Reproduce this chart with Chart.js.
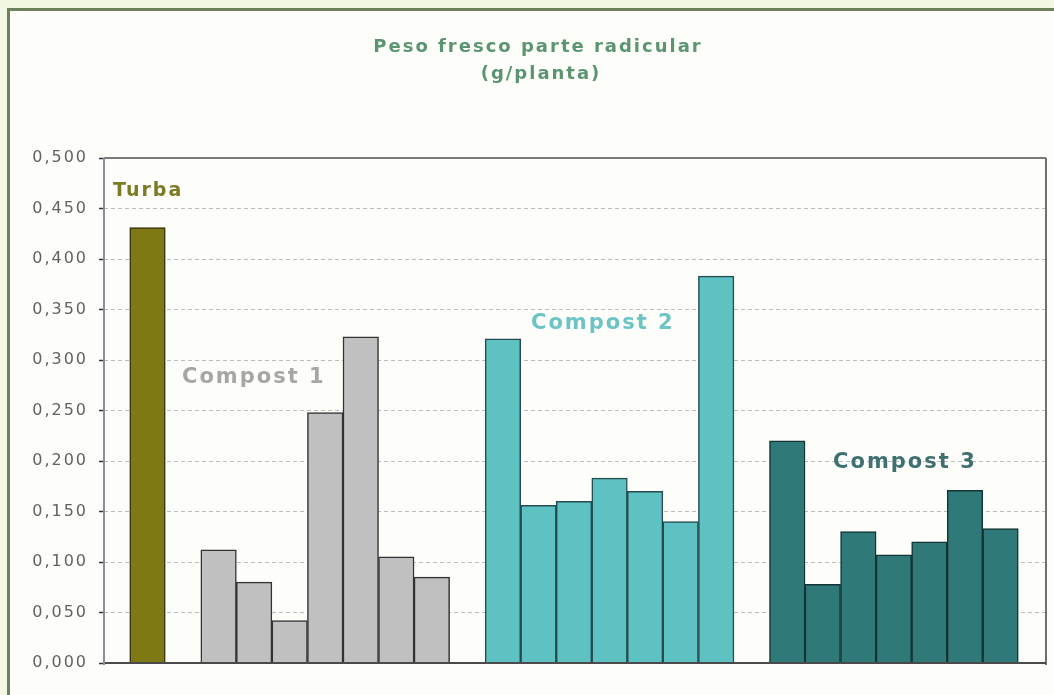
<!DOCTYPE html>
<html>
<head>
<meta charset="utf-8">
<script src="https://cdn.jsdelivr.net/npm/chart.js@4/dist/chart.umd.min.js"></script>
<style>
  html, body { margin: 0; padding: 0; background: #f2f7e4; overflow: hidden; }
  #frame {
    position: absolute; left: 7px; top: 8px; width: 1100px; height: 760px;
    border: 3px solid #6e7f5c; background: #fdfef9;
  }
  #wrap { position: absolute; left: 0; top: 0; width: 1054px; height: 695px; }
</style>
</head>
<body>
<div id="frame"></div>
<div id="wrap"><canvas id="c" width="1054" height="695"></canvas></div>
<script>
// Fresh root weight per plant (g/planta), one bar per sample
const turba    = [0.431];
const compost1 = [0.112, 0.080, 0.042, 0.248, 0.323, 0.105, 0.085];
const compost2 = [0.321, 0.156, 0.160, 0.183, 0.170, 0.140, 0.383];
const compost3 = [0.220, 0.078, 0.130, 0.107, 0.120, 0.171, 0.133];

const groupNames = ['Turba', 'Compost 1', 'Compost 2', 'Compost 3'];
const yTicks = [0, 0.05, 0.1, 0.15, 0.2, 0.25, 0.3, 0.35, 0.4, 0.45, 0.5];
const titleLines = ['Peso fresco parte radicular', '(g/planta)'];

// Groups sit side by side with one empty slot between them
const groups = [turba, compost1, compost2, compost3];
const groupStart = [];
let slot = 0;
groups.forEach(g => { groupStart.push(slot); slot += g.length + 1; });
const toPoints = (vals, gi) => vals.map((v, i) => ({ x: groupStart[gi] + i, y: v }));

const styles = [
  { fill: '#7f7914', border: '#33320f', label: '#7c7a24', size: 19 },
  { fill: '#c0c0c0', border: '#333333', label: '#a6a6a6', size: 21 },
  { fill: '#5ec2c3', border: '#244b4f', label: '#6cc4c5', size: 21 },
  { fill: '#2f7a78', border: '#133434', label: '#3f6f70', size: 21 }
];
// Group label anchors, in axis units (left edge, vertical middle)
const labelAnchor = [
  { x: -0.97, y: 0.467 },
  { x: 0.97,  y: 0.283 },
  { x: 10.79, y: 0.336 },
  { x: 19.29, y: 0.198 }
];

// each bar fills one whole slot of the x axis
const slotWidth = ctx => {
  const x = ctx.chart.scales.x;
  return x ? Math.abs(x.getPixelForValue(1) - x.getPixelForValue(0)) : 30;
};

const spacing = {
  id: 'spacing',
  beforeUpdate(chart) { chart.ctx.letterSpacing = '2px'; },
  beforeDraw(chart) { chart.ctx.letterSpacing = '2px'; }
};

const decorations = {
  id: 'decorations',
  afterDatasetsDraw(chart) {
    const { ctx, chartArea: a, scales } = chart;
    ctx.save();
    ctx.letterSpacing = '2px';
    // plot frame
    const edge = (x1, y1, x2, y2, color) => {
      ctx.beginPath(); ctx.strokeStyle = color; ctx.lineWidth = 2;
      ctx.moveTo(x1, y1); ctx.lineTo(x2, y2); ctx.stroke();
    };
    edge(a.left, a.top, a.right, a.top, '#7a7a7a');
    edge(a.right, a.top, a.right, a.bottom + 2, '#6f6f6f');
    edge(a.left, a.bottom, a.right, a.bottom, '#4a4a4a');
    edge(a.left, a.top, a.left, a.bottom + 2, '#8a8aa6');
    // group labels
    ctx.textAlign = 'left';
    ctx.textBaseline = 'middle';
    groupNames.forEach((name, i) => {
      ctx.font = 'bold ' + styles[i].size + 'px "DejaVu Sans"';
      ctx.fillStyle = styles[i].label;
      ctx.fillText(name, scales.x.getPixelForValue(labelAnchor[i].x),
                         scales.y.getPixelForValue(labelAnchor[i].y));
    });
    // title
    ctx.textAlign = 'center';
    ctx.font = 'bold 18px "DejaVu Sans"';
    ctx.fillStyle = '#5a9470';
    ctx.fillText(titleLines[0], 538, 47);
    ctx.fillText(titleLines[1], 541, 74);
    ctx.restore();
  }
};

new Chart(document.getElementById('c'), {
  type: 'bar',
  data: {
    datasets: groups.map((g, i) => ({
      label: groupNames[i],
      data: toPoints(g, i),
      backgroundColor: styles[i].fill,
      borderColor: styles[i].border,
      borderWidth: 1.5,
      barThickness: slotWidth
    }))
  },
  options: {
    responsive: false,
    animation: false,
    grouped: false,
    layout: { padding: { left: 0, right: 8, top: 158, bottom: 32 } },
    plugins: { legend: { display: false }, tooltip: { enabled: false }, title: { display: false } },
    scales: {
      x: {
        type: 'linear',
        display: false,
        offset: false,
        bounds: 'data',
        min: -1.224,
        max: 25.28,
        grid: { offset: false },
        ticks: { stepSize: 1, includeBounds: false }
      },
      y: {
        min: 0,
        max: 0.5,
        afterFit(scale) { scale.width = 104; },
        afterBuildTicks(scale) { scale.ticks = yTicks.map(v => ({ value: v })); },
        border: { display: false, dash: [4, 3] },
        grid: {
          color: '#bcbcbc', lineWidth: 1,
          drawTicks: true, tickLength: 5, tickColor: '#333333', tickWidth: 1.5, tickBorderDash: []
        },
        ticks: {
          padding: 11,
          color: '#626262',
          font: { family: '"DejaVu Sans"', size: 16 },
          callback: v => v.toFixed(3).replace('.', ',')
        }
      }
    }
  },
  plugins: [spacing, decorations]
});
</script>
</body>
</html>
